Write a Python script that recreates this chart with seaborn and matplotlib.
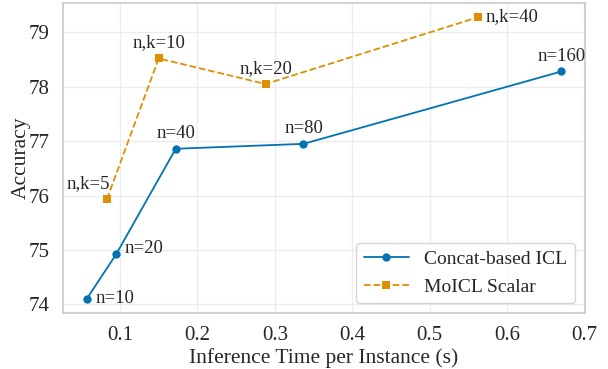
import pandas as pd
import seaborn as sns
import matplotlib.pyplot as plt

# data
concat_time = [0.057, 0.095, 0.172, 0.337, 0.670]
concat_acc = [74.10, 74.92, 76.86, 76.95, 78.28]
concat_labels = ["n=10", "n=20", "n=40", "n=80", "n=160"]

moicl_time = [0.083, 0.150, 0.288, 0.563]
moicl_acc = [75.93, 78.52, 78.05, 79.28]
moicl_labels = ["n,k=5", "n,k=10", "n,k=20", "n,k=40"]

sns.set_theme(style="whitegrid")
plt.rcParams["font.family"] = ["Liberation Serif", "DejaVu Serif"]
plt.rcParams["grid.color"] = "#ececec"
plt.rcParams["axes.edgecolor"] = "#cccccc"

pal = sns.color_palette("colorblind")
blue, orange = pal[0], pal[1]

fig, ax = plt.subplots(figsize=(6.08, 3.69), dpi=100)

concat = pd.DataFrame({"time": concat_time, "acc": concat_acc})
moicl = pd.DataFrame({"time": moicl_time, "acc": moicl_acc})

sns.lineplot(data=concat, x="time", y="acc", ax=ax, color=blue, marker="o",
             markersize=6, markeredgewidth=0, linewidth=1.3, label="Concat-based ICL")
sns.lineplot(data=moicl, x="time", y="acc", ax=ax, color=orange, marker="s",
             markersize=6, markeredgewidth=0, linewidth=1.3, linestyle="--",
             label="MoICL Scalar")

# point labels
concat_off = [(6, 0, "left", "center"), (6, 4, "left", "center"),
              (0, 5, "center", "bottom"), (0, 5, "center", "bottom"),
              (0, 5, "center", "bottom")]
for x, y, t, (dx, dy, ha, va) in zip(concat_time, concat_acc, concat_labels, concat_off):
    ax.annotate(t, (x, y), xytext=(dx, dy), textcoords="offset points",
                ha=ha, va=va, fontsize=13.5)

moicl_off = [(2, 5, "right", "bottom"), (0, 5, "center", "bottom"),
             (0, 5, "center", "bottom"), (5, 0, "left", "center")]
for x, y, t, (dx, dy, ha, va) in zip(moicl_time, moicl_acc, moicl_labels, moicl_off):
    ax.annotate(t, (x, y), xytext=(dx, dy), textcoords="offset points",
                ha=ha, va=va, fontsize=13.5)

ax.set_xlabel("Inference Time per Instance (s)", fontsize=15.5, labelpad=2)
ax.set_ylabel("Accuracy", fontsize=15.5)
ax.yaxis.set_label_coords(-0.062, 0.5)
ax.tick_params(labelsize=15)
ax.legend(loc="lower right", fontsize=14, frameon=True, handlelength=2.3)

fig.subplots_adjust(left=63 / 608, right=585 / 608, top=1 - 3 / 369, bottom=1 - 313 / 369)
plt.savefig("out.png", dpi=100)
